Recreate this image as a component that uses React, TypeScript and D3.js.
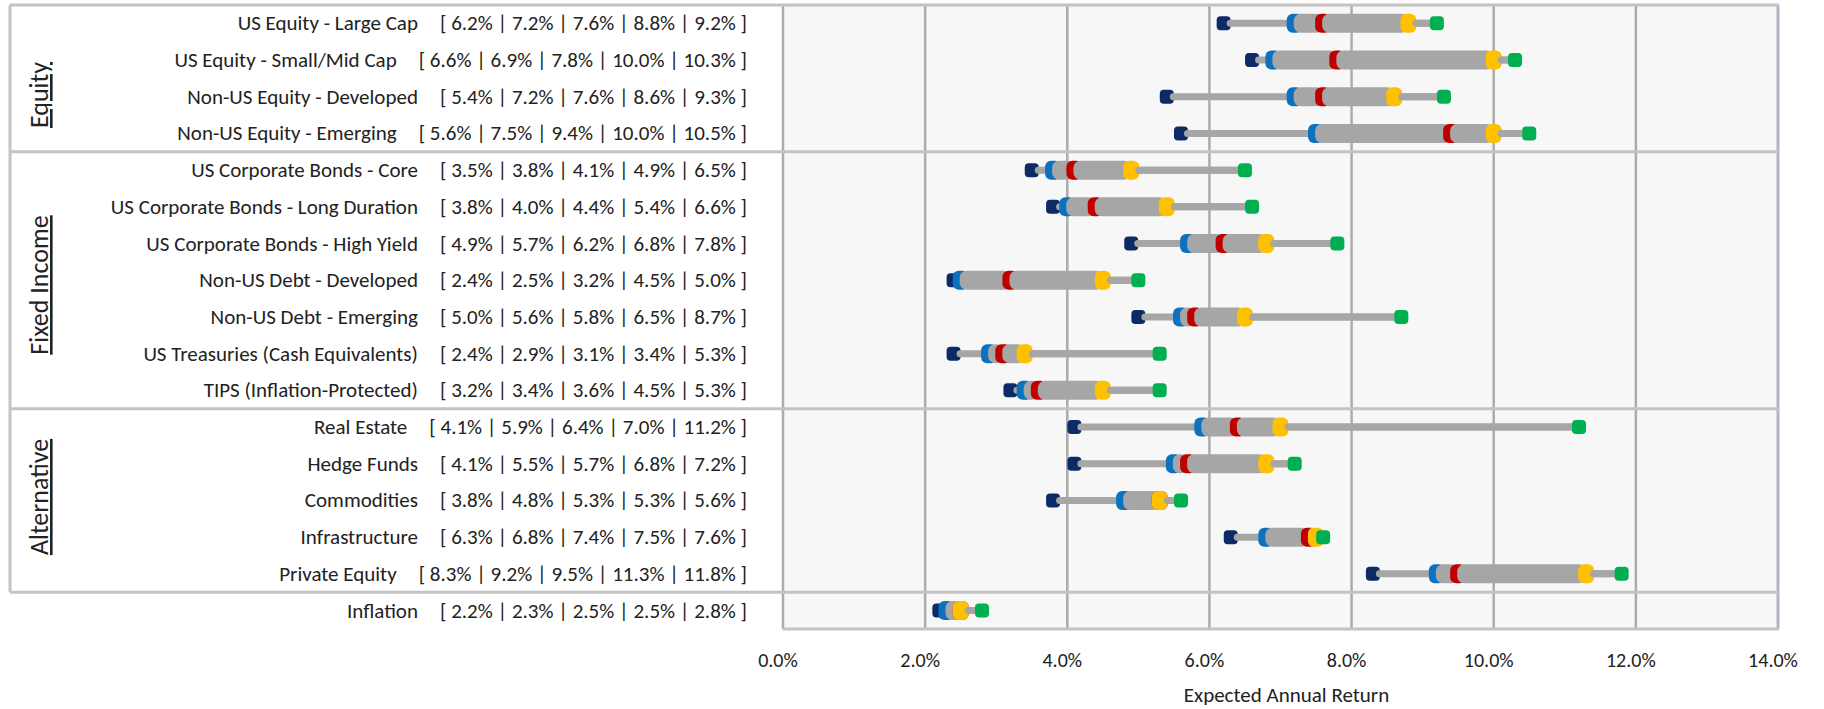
import React from "react";
import * as d3 from "d3";

const categories = [
  "US Equity - Large Cap",
  "US Equity - Small/Mid Cap",
  "Non-US Equity - Developed",
  "Non-US Equity - Emerging",
  "US Corporate Bonds - Core",
  "US Corporate Bonds - Long Duration",
  "US Corporate Bonds - High Yield",
  "Non-US Debt - Developed",
  "Non-US Debt - Emerging",
  "US Treasuries (Cash Equivalents)",
  "TIPS (Inflation-Protected)",
  "Real Estate",
  "Hedge Funds",
  "Commodities",
  "Infrastructure",
  "Private Equity",
  "Inflation",
];
const minVals = [6.2, 6.6, 5.4, 5.6, 3.5, 3.8, 4.9, 2.4, 5.0, 2.4, 3.2, 4.1, 4.1, 3.8, 6.3, 8.3, 2.2];
const q1Vals = [7.2, 6.9, 7.2, 7.5, 3.8, 4.0, 5.7, 2.5, 5.6, 2.9, 3.4, 5.9, 5.5, 4.8, 6.8, 9.2, 2.3];
const medVals = [7.6, 7.8, 7.6, 9.4, 4.1, 4.4, 6.2, 3.2, 5.8, 3.1, 3.6, 6.4, 5.7, 5.3, 7.4, 9.5, 2.5];
const q3Vals = [8.8, 10.0, 8.6, 10.0, 4.9, 5.4, 6.8, 4.5, 6.5, 3.4, 4.5, 7.0, 6.8, 5.3, 7.5, 11.3, 2.5];
const maxVals = [9.2, 10.3, 9.3, 10.5, 6.5, 6.6, 7.8, 5.0, 8.7, 5.3, 5.3, 11.2, 7.2, 5.6, 7.6, 11.8, 2.8];

const groupNames = ["Equity", "Fixed Income", "Alternative"];
const groupLast = [3, 10, 15];

const tickValues = [0, 2, 4, 6, 8, 10, 12, 14];
const axisTitle = "Expected Annual Return";

const W = 1824;
const H = 709;
const FONT = "Carlito, Calibri, Lato, sans-serif";
const COLORS = {
  min: "#0b2a66",
  q1: "#0a72c0",
  med: "#c00000",
  q3: "#ffc000",
  max: "#00b050",
  bar: "#a6a6a6",
  grid: "#ababab",
  border: "#c3c3c3",
  text: "#222222",
};

export default function App() {
  const top = 5;
  const rowH = 36.7;
  const bottom = top + rowH * categories.length;
  const panelLeft = 10;
  const x = d3.scaleLinear().domain([0, 14]).range([783, 1778]);
  const y = d3.scaleBand<string>().domain(categories).range([top, bottom]).padding(0);
  const fmt = (v: number) => d3.format(".1f")(v) + "%";
  const sepYs = groupLast.map((i) => (y(categories[i]) as number) + rowH);
  const thinH = 7;
  const barH = 19;
  const groupCenters = [95, 285, 497];

  return (
    <svg
      width={W}
      height={H}
      style={{ position: "absolute", left: 0, top: 0, fontFamily: FONT }}
    >
      {/* plot background */}
      <rect x={x(0)} y={top} width={x(14) - x(0)} height={bottom - top} fill="#f7f7f7" />
      {/* vertical gridlines */}
      {tickValues.map((t) => (
        <line
          key={"g" + t}
          x1={x(t)}
          x2={x(t)}
          y1={top}
          y2={bottom}
          stroke={t === 14 ? "#b6b1c6" : COLORS.grid}
          strokeWidth={t === 14 ? 3 : 2.5}
        />
      ))}
      {/* borders */}
      <line x1={panelLeft} x2={x(14) + 1} y1={top} y2={top} stroke={COLORS.border} strokeWidth={3} />
      <line x1={panelLeft} x2={panelLeft} y1={top} y2={sepYs[2]} stroke={COLORS.border} strokeWidth={3} />
      {sepYs.map((sy, i) => (
        <line key={"s" + i} x1={panelLeft} x2={x(14) + 1} y1={sy} y2={sy} stroke={COLORS.border} strokeWidth={3} />
      ))}
      <line x1={x(0)} x2={x(14) + 1} y1={bottom} y2={bottom} stroke={COLORS.border} strokeWidth={3} />

      {/* group labels */}
      {groupNames.map((g, i) => (
        <text
          key={g}
          transform={`translate(48,${groupCenters[i]}) rotate(-90)`}
          textAnchor="middle"
          fontSize={26}
          fill={COLORS.text}
          style={{ textDecoration: "underline" }}
        >
          {g}
        </text>
      ))}

      {/* row labels */}
      {categories.map((c, i) => {
        const cy = (y(c) as number) + rowH / 2;
        const vals = [minVals[i], q1Vals[i], medVals[i], q3Vals[i], maxVals[i]].map(fmt).join(" | ");
        return (
          <text key={"l" + c} x={747} y={cy + 7} textAnchor="end" fontSize={21} fill={COLORS.text}>
            <tspan>{c}</tspan>
            <tspan dx={22}>{"[ " + vals + " ]"}</tspan>
          </text>
        );
      })}

      {/* markers */}
      {categories.map((c, i) => {
        const cy = (y(c) as number) + rowH / 2;
        const xmin = x(minVals[i]);
        const xq1 = x(q1Vals[i]);
        const xmed = x(medVals[i]);
        const xq3 = x(q3Vals[i]);
        const xmax = x(maxVals[i]);
        return (
          <g key={"m" + c}>
            <rect x={xmin - 7} y={cy - 7} width={14} height={14} rx={4} fill={COLORS.min} />
            <rect x={xmin + 3} y={cy - thinH / 2} width={Math.max(0, xmax - xmin - 3)} height={thinH} rx={3.5} fill={COLORS.bar} />
            <rect x={xq1 - 8} y={cy - barH / 2} width={16} height={barH} rx={6} fill={COLORS.q1} />
            <rect x={xq1 - 1} y={cy - barH / 2} width={Math.max(0, xmed - xq1 + 1)} height={barH} rx={7} fill={COLORS.bar} />
            <rect x={xmed - 8} y={cy - barH / 2} width={16} height={barH} rx={6} fill={COLORS.med} />
            <rect x={xmed - 1} y={cy - barH / 2} width={Math.max(0, xq3 - xmed + 1)} height={barH} rx={7} fill={COLORS.bar} />
            <rect x={xq3 - 8} y={cy - barH / 2} width={16} height={barH} rx={6} fill={COLORS.q3} />
            <rect x={xq3 + 4} y={cy - thinH / 2} width={Math.max(0, xmax - xq3 - 4)} height={thinH} rx={3.5} fill={COLORS.bar} />
            <rect x={xmax - 7} y={cy - 7} width={14} height={14} rx={4} fill={COLORS.max} />
          </g>
        );
      })}

      {/* tick labels */}
      {tickValues.map((t) => (
        <text key={"t" + t} x={x(t) - 5} y={667} textAnchor="middle" fontSize={20} fill={COLORS.text}>
          {fmt(t)}
        </text>
      ))}
      <text x={(x(0) + x(14)) / 2 + 6} y={702} textAnchor="middle" fontSize={21} fill={COLORS.text}>
        {axisTitle}
      </text>
    </svg>
  );
}
